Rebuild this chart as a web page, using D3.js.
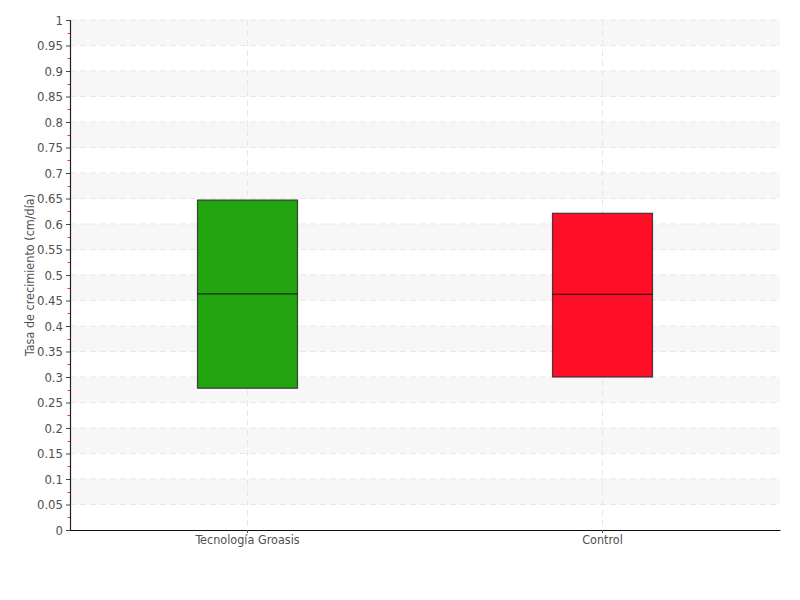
<!DOCTYPE html>
<html>
<head>
<meta charset="utf-8">
<title>Tasa de crecimiento</title>
<script src="https://cdn.jsdelivr.net/npm/d3@7"></script>
<style>
    body { margin: 0; background: #fff; }
    text { font-family: "DejaVu Sans", sans-serif; font-stretch: condensed; }
</style>
</head>
<body>
<script>
// data
var categories = ["Tecnología Groasis", "Control"];
var q1 = [0.278, 0.300];
var median = [0.463, 0.462];
var q3 = [0.647, 0.621];
var colors = ["#21a40f", "#ff0e28"];
var yTicks = d3.range(0, 21).map(function(i) { return +(i * 0.05).toFixed(2); });

var w = 800, h = 600;
var mLeft = 70, mRight = 780, mTop = 20, mBottom = 530;

var svg = d3.select("body").append("svg").attr("width", w).attr("height", h);

var y = d3.scaleLinear().domain([0, 1]).range([mBottom, mTop]);
var x = d3.scaleBand().domain(categories).range([mLeft, mRight]).paddingInner(0).paddingOuter(0);

// alternating bands
var bands = yTicks.slice(1).filter(function(d, i) { return i % 2 == 1; });
svg.selectAll("rect.band").data(bands).enter().append("rect")
    .attr("class", "band")
    .attr("x", mLeft)
    .attr("width", mRight - mLeft)
    .attr("y", function(d) { return y(d); })
    .attr("height", function(d) { return y(d - 0.05) - y(d); })
    .attr("fill", "#f7f7f7");

// horizontal grid
svg.selectAll("line.hgrid").data(yTicks.slice(1)).enter().append("line")
    .attr("x1", mLeft).attr("x2", mRight)
    .attr("y1", function(d) { return y(d); })
    .attr("y2", function(d) { return y(d); })
    .attr("stroke", "#e8e8e8")
    .attr("stroke-dasharray", "6,4");

// vertical grid
svg.selectAll("line.vgrid").data(categories).enter().append("line")
    .attr("x1", function(d) { return x(d) + x.bandwidth() / 2; })
    .attr("x2", function(d) { return x(d) + x.bandwidth() / 2; })
    .attr("y1", mTop).attr("y2", mBottom)
    .attr("stroke", "#e8e8e8")
    .attr("stroke-dasharray", "6,4");

// boxes
var boxW = 100;
var idx = d3.range(categories.length);
svg.selectAll("rect.box").data(idx).enter().append("rect")
    .attr("x", function(i) { return x(categories[i]) + x.bandwidth() / 2 - boxW / 2; })
    .attr("y", function(i) { return y(q3[i]); })
    .attr("width", boxW)
    .attr("height", function(i) { return y(q1[i]) - y(q3[i]); })
    .attr("fill", function(i) { return colors[i]; })
    .attr("stroke", "#2a2a2a")
    .attr("stroke-opacity", 0.85)
    .attr("stroke-width", 1.2);

svg.selectAll("line.median").data(idx).enter().append("line")
    .attr("x1", function(i) { return x(categories[i]) + x.bandwidth() / 2 - boxW / 2; })
    .attr("x2", function(i) { return x(categories[i]) + x.bandwidth() / 2 + boxW / 2; })
    .attr("y1", function(i) { return y(median[i]); })
    .attr("y2", function(i) { return y(median[i]); })
    .attr("stroke", "#111")
    .attr("stroke-opacity", 0.8)
    .attr("stroke-width", 1.2);

// y axis
var yAxis = svg.append("g")
    .attr("transform", "translate(" + mLeft + ",0)")
    .call(d3.axisLeft(y).tickValues(yTicks).tickSize(4).tickPadding(3)
        .tickFormat(function(d) { return String(+d.toFixed(2)); }));
yAxis.select(".domain").attr("stroke", "#222").attr("stroke-width", 1.2);
yAxis.selectAll(".tick line").attr("stroke", "#444");
yAxis.selectAll("text").attr("fill", "#505050").attr("font-size", "13px").attr("font-family", null);

// minor ticks (red), drawn over the axis line
var minor = yTicks.slice(0, -1).map(function(d) { return d + 0.025; });
svg.selectAll("line.minor").data(minor).enter().append("line")
    .attr("x1", mLeft - 2.5).attr("x2", mLeft)
    .attr("y1", function(d) { return Math.round(y(d)) + 0.5; })
    .attr("y2", function(d) { return Math.round(y(d)) + 0.5; })
    .attr("stroke", "#ff2a2a");

// x axis
var xAxis = svg.append("g")
    .attr("transform", "translate(0," + mBottom + ")")
    .call(d3.axisBottom(x).tickSizeInner(3).tickSizeOuter(0).tickPadding(2));
xAxis.select(".domain").attr("stroke", "#111").attr("stroke-width", 1.2);
xAxis.selectAll(".tick line").attr("stroke", "#555");
xAxis.selectAll("text").attr("fill", "#505050").attr("font-size", "12.5px").attr("font-family", null);

// y title
svg.append("text")
    .attr("transform", "translate(34," + ((mTop + mBottom) / 2) + ") rotate(-90)")
    .attr("text-anchor", "middle")
    .attr("fill", "#505050")
    .attr("font-size", "12.5px")
    .text("Tasa de crecimiento (cm/día)");
</script>
</body>
</html>
